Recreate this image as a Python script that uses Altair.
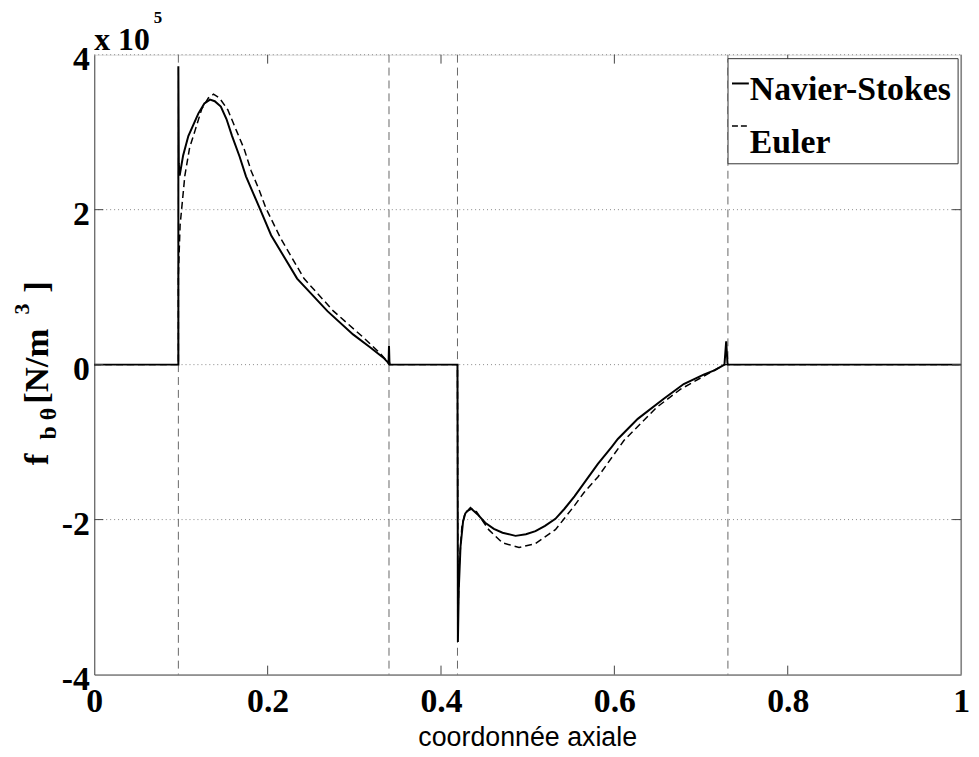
import altair as alt
import pandas as pd

# ---- data ----
ns_x = [0.0, 0.097, 0.097, 0.0975, 0.0985, 0.1025, 0.1085, 0.120, 0.127, 0.1335, 0.139, 0.146,
        0.1525, 0.159, 0.1675, 0.175, 0.1915, 0.204, 0.234, 0.269, 0.2985, 0.3185, 0.3335, 0.3395,
        0.3400, 0.3405, 0.341, 0.419, 0.4195, 0.4205, 0.4225, 0.4255, 0.428, 0.434, 0.442, 0.451,
        0.461, 0.471, 0.486, 0.498, 0.509, 0.520, 0.532, 0.5425, 0.554, 0.565, 0.581, 0.597, 0.604,
        0.627, 0.657, 0.680, 0.703, 0.716, 0.727, 0.729, 0.7305, 0.731, 1.0]
ns_y = [0, 0, 3.85, 2.6, 2.44, 2.70, 2.95, 3.24, 3.37, 3.42, 3.40, 3.33,
        3.17, 2.95, 2.69, 2.43, 2.0, 1.67, 1.11, 0.69, 0.39, 0.22, 0.09, 0.02,
        0.24, 0.04, 0, 0, -3.58, -2.9, -2.35, -2.02, -1.92, -1.85, -1.93, -2.04,
        -2.12, -2.17, -2.21, -2.19, -2.15, -2.08, -1.99, -1.86, -1.70, -1.53, -1.28, -1.06, -0.96,
        -0.70, -0.44, -0.25, -0.13, -0.07, 0.0, 0.30, 0.02, 0, 0]

eu_x = [0.0, 0.097, 0.097, 0.099, 0.1045, 0.110, 0.1165, 0.124, 0.1315, 0.1375, 0.1445, 0.154,
        0.164, 0.173, 0.181, 0.190, 0.198, 0.215, 0.242, 0.276, 0.3105, 0.3285, 0.3375, 0.340,
        0.419, 0.4195, 0.421, 0.424, 0.428, 0.436, 0.441, 0.455, 0.471, 0.490, 0.509, 0.532,
        0.554, 0.565, 0.581, 0.611, 0.649, 0.676, 0.703, 0.727, 1.0]
eu_y = [0, 0, 1.15, 1.8, 2.44, 2.8, 3.03, 3.30, 3.44, 3.49, 3.44, 3.29,
        3.02, 2.78, 2.50, 2.26, 2.02, 1.63, 1.11, 0.69, 0.35, 0.16, 0.05, 0.0,
        0, -3.3, -2.6, -2.1, -1.9, -1.86, -1.90, -2.13, -2.30, -2.36, -2.31, -2.13,
        -1.82, -1.65, -1.45, -0.98, -0.55, -0.32, -0.15, 0, 0]

sep_x = [0.097, 0.34, 0.419, 0.731]
x_ticks = [0, 0.2, 0.4, 0.6, 0.8, 1]
y_ticks = [-4, -2, 0, 2, 4]
x_inner_ticks = [0.2, 0.4, 0.6, 0.8]
y_inner_ticks = [-2, 0, 2]
grid_y = [-2, 0, 2, 4]
legend_labels = ["Navier-Stokes", "Euler"]
x_title = "coordonnée axiale"
y_title_parts = ["f", "b θ", "[N/m", "3", "]"]
exp_parts = ["x 10", "5"]

W, H = 874, 625
SERIF = "Liberation Serif"

ns_df = pd.DataFrame({"x": ns_x, "y": ns_y, "i": range(len(ns_x))})
eu_df = pd.DataFrame({"x": eu_x, "y": eu_y, "i": range(len(eu_x))})
sep_df = pd.DataFrame({"x": sep_x})
grid_df = pd.DataFrame({"y": grid_y})
xt_df = pd.DataFrame({"x": x_inner_ticks})
yt_df = pd.DataFrame({"y": y_inner_ticks})
one = pd.DataFrame({"k": [0]})

xs = alt.Scale(domain=[0, 1], nice=False, zero=False)
ys = alt.Scale(domain=[-4, 4], nice=False, zero=False)

x_axis = alt.Axis(values=x_ticks, labelExpr="'' + datum.value", labelFont=SERIF,
                  labelFontWeight="bold", labelFontSize=34, labelColor="black",
                  labelPadding=10, ticks=False, grid=False, domainColor="#444",
                  domainWidth=1, title=None, labelOverlap=False, labelFlush=False)
y_axis = alt.Axis(values=y_ticks, labelExpr="'' + datum.value", labelFont=SERIF,
                  labelFontWeight="bold", labelFontSize=34, labelColor="black",
                  labelPadding=5, labelOffset=5, ticks=False, grid=False,
                  domainColor="#444", domainWidth=1, title=None, labelOverlap=False,
                  labelFlush=False)


def X(field="x"):
    return alt.X(f"{field}:Q", scale=xs, axis=x_axis, title=None)


def Y(field="y"):
    return alt.Y(f"{field}:Q", scale=ys, axis=y_axis, title=None)


grid = alt.Chart(grid_df).mark_rule(color="#888", strokeDash=[1, 3], strokeWidth=1).encode(
    y=Y(), x=alt.value(0), x2=alt.value(W))

seps = alt.Chart(sep_df).mark_rule(color="#666", strokeDash=[8, 5], strokeWidth=1).encode(
    x=X(), y=alt.value(0), y2=alt.value(H))

ticks_b = alt.Chart(xt_df).mark_rule(color="#444").encode(
    x=X(), y=alt.value(H), y2=alt.value(H - 9))
ticks_t = alt.Chart(xt_df).mark_rule(color="#444").encode(
    x=X(), y=alt.value(0), y2=alt.value(9))
ticks_l = alt.Chart(yt_df).mark_rule(color="#444").encode(
    y=Y(), x=alt.value(0), x2=alt.value(9))
ticks_r = alt.Chart(yt_df).mark_rule(color="#444").encode(
    y=Y(), x=alt.value(W - 9), x2=alt.value(W))
right_border = alt.Chart(one).mark_rule(color="#444").encode(
    x=alt.value(W), y=alt.value(0), y2=alt.value(H))

ns_line = alt.Chart(ns_df).mark_line(color="black", strokeWidth=2).encode(
    x=X(), y=Y(), order="i:Q")
eu_line = alt.Chart(eu_df).mark_line(color="black", strokeWidth=1.5, strokeDash=[7, 4]).encode(
    x=X(), y=Y(), order="i:Q")

# legend
leg_box = alt.Chart(one).mark_rect(fill="white", stroke="#333", strokeWidth=1).encode(
    x=alt.value(639), x2=alt.value(871), y=alt.value(4), y2=alt.value(110))
leg_ns = alt.Chart(one).mark_rule(color="black", strokeWidth=2).encode(
    x=alt.value(643), x2=alt.value(660), y=alt.value(29))
leg_eu = alt.Chart(one).mark_rule(color="black", strokeWidth=1.5, strokeDash=[6, 3]).encode(
    x=alt.value(643), x2=alt.value(660), y=alt.value(72))
leg_t1 = alt.Chart(one).mark_text(font=SERIF, fontWeight="bold", fontSize=34, align="left",
                                  baseline="alphabetic", color="black").encode(
    x=alt.value(661), y=alt.value(46), text=alt.value(legend_labels[0]))
leg_t2 = alt.Chart(one).mark_text(font=SERIF, fontWeight="bold", fontSize=34, align="left",
                                  baseline="alphabetic", color="black").encode(
    x=alt.value(661), y=alt.value(99), text=alt.value(legend_labels[1]))

# titles
xt = alt.Chart(one).mark_text(font="Liberation Sans", fontSize=27, align="center",
                              baseline="alphabetic", color="black").encode(
    x=alt.value(W / 2), y=alt.value(697), text=alt.value(x_title))


def ypart(txt, x, y, size):
    return alt.Chart(one).mark_text(font=SERIF, fontWeight="bold", fontSize=size, angle=270,
                                    align="left", baseline="alphabetic", color="black").encode(
        x=alt.value(x), y=alt.value(y), text=alt.value(txt))


yt_f = ypart(y_title_parts[0], -47, 414, 35)
yt_sub = ypart(y_title_parts[1], -39, 388, 24)
yt_main = ypart(y_title_parts[2], -47, 352, 35)
yt_sup = ypart(y_title_parts[3], -66, 262, 22)
yt_end = ypart(y_title_parts[4], -47, 240, 35)

exp_main = alt.Chart(one).mark_text(font=SERIF, fontWeight="bold", fontSize=32, align="left",
                                    baseline="alphabetic", color="black").encode(
    x=alt.value(0), y=alt.value(-5), text=alt.value(exp_parts[0]))
exp_sup = alt.Chart(one).mark_text(font=SERIF, fontWeight="bold", fontSize=17, align="left",
                                   baseline="alphabetic", color="black").encode(
    x=alt.value(60), y=alt.value(-32), text=alt.value(exp_parts[1]))

chart = alt.layer(
    grid, seps, ns_line, eu_line, ticks_b, ticks_t, ticks_l, ticks_r, right_border,
    leg_box, leg_ns, leg_eu, leg_t1, leg_t2, xt,
    yt_f, yt_sub, yt_main, yt_sup, yt_end, exp_main, exp_sup
).properties(
    width=W, height=H,
    autosize=alt.AutoSizeParams(type="none"),
    padding={"left": 87, "top": 44, "right": 10, "bottom": 75},
).configure_view(stroke=None).configure(background="white")

chart.save("out.html", embed_options={"renderer": "svg", "actions": False})
